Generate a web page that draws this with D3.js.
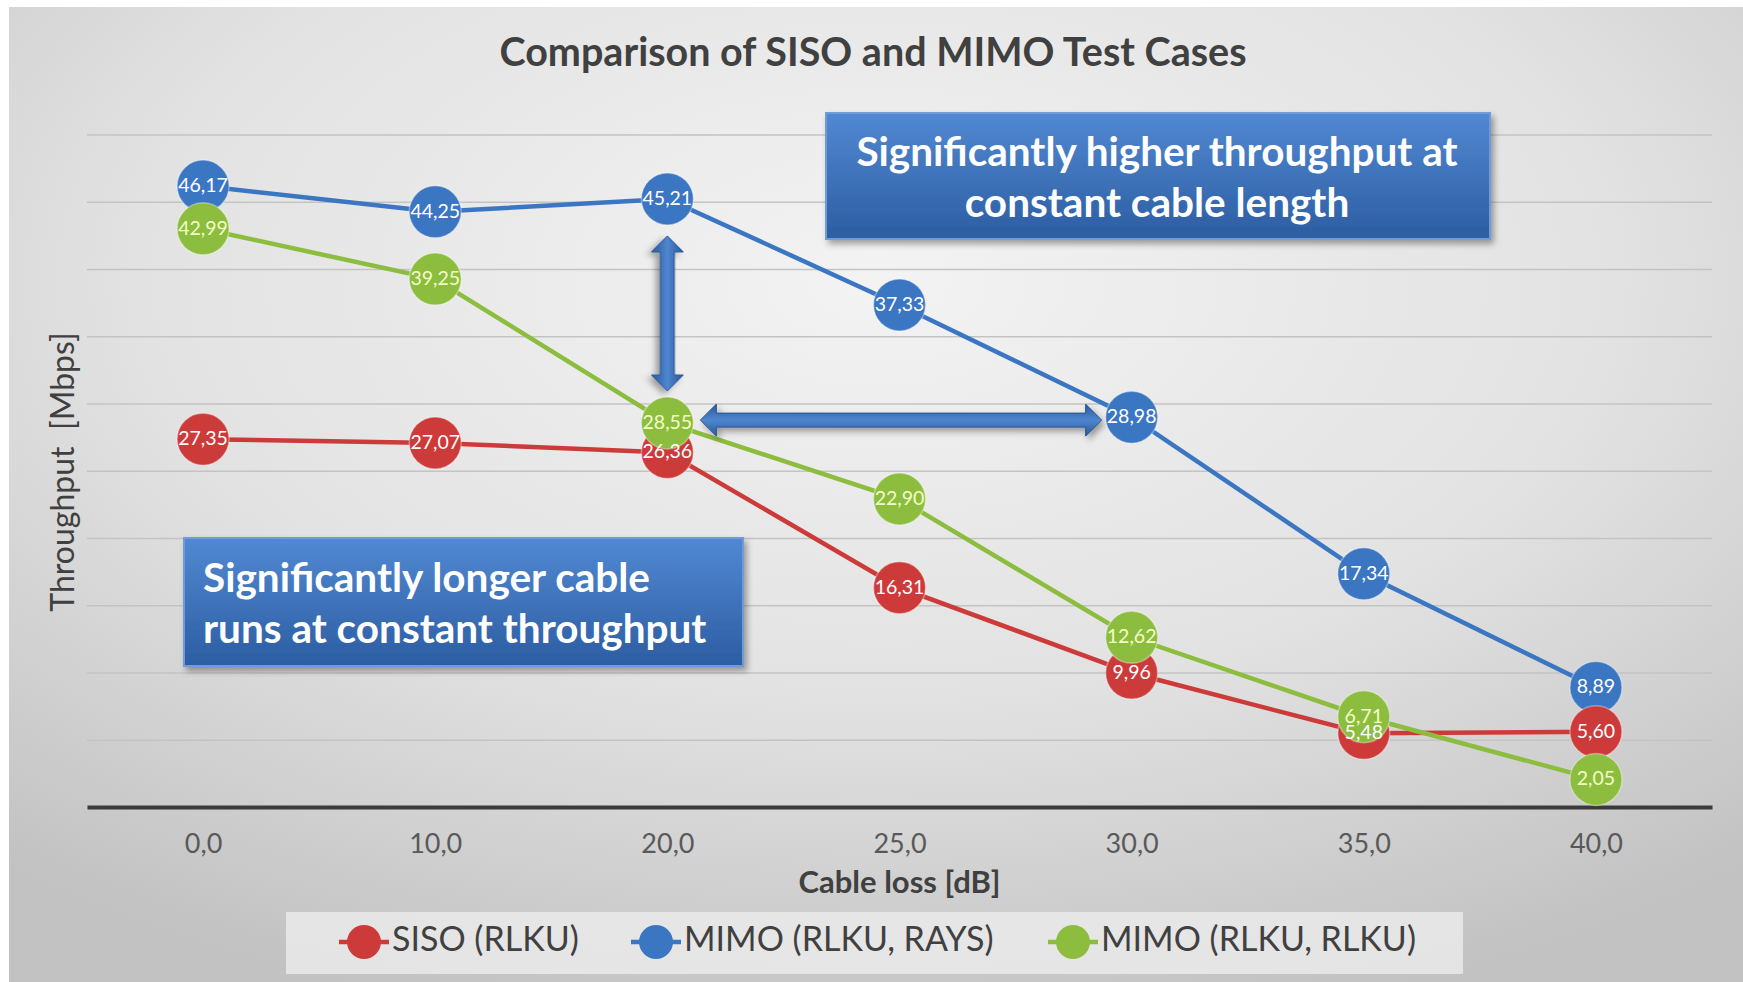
<html>
<head>
<meta charset="utf-8">
<style>
  body { margin: 0; background: #ffffff; }
  text { font-family: Lato, "Open Sans", sans-serif; }
</style>
</head>
<body>
<div id="chart"><svg></svg></div>
<script src="https://cdn.jsdelivr.net/npm/d3@7/dist/d3.min.js"></script>
<script>
// data
var categories = ["0,0", "10,0", "20,0", "25,0", "30,0", "35,0", "40,0"]
var siso = [27.35, 27.07, 26.36, 16.31, 9.96, 5.48, 5.60]
var mimoRays = [46.17, 44.25, 45.21, 37.33, 28.98, 17.34, 8.89]
var mimoRlku = [42.99, 39.25, 28.55, 22.90, 12.62, 6.71, 2.05]
var seriesNames = ["SISO (RLKU)", "MIMO (RLKU, RAYS)", "MIMO (RLKU, RLKU)"]
var yGrid = [5, 10, 15, 20, 25, 30, 35, 40, 45, 50]

var screen = {width: 1743, height: 982}
var plot = {left: 87, right: 1712, top: 134.5, bottom: 807}

var series = [
    {name: seriesNames[1], values: mimoRays, color: "#3b76c3", text: "#ffffff"},
    {name: seriesNames[0], values: siso, color: "#cd3a3a", text: "#ffffff"},
    {name: seriesNames[2], values: mimoRlku, color: "#8cbd3e", text: "#f3ffc8"}
]
var legendOrder = [series[1], series[0], series[2]]

var svg = d3.select("#chart svg")
            .attr("width", screen.width)
            .attr("height", screen.height)

var defs = svg.append("defs")
var bg = defs.append("radialGradient").attr("id", "bg")
             .attr("cx", "50%").attr("cy", "28%").attr("r", "78%")
bg.append("stop").attr("offset", "0%").attr("stop-color", "#f3f3f3")
bg.append("stop").attr("offset", "55%").attr("stop-color", "#e2e2e2")
bg.append("stop").attr("offset", "100%").attr("stop-color", "#c2c2c2")

var boxGrad = defs.append("linearGradient").attr("id", "boxGrad")
                  .attr("x1", 0).attr("y1", 0).attr("x2", 0).attr("y2", 1)
boxGrad.append("stop").attr("offset", "0%").attr("stop-color", "#5189d2")
boxGrad.append("stop").attr("offset", "100%").attr("stop-color", "#2c5da2")

var arrowGradH = defs.append("linearGradient").attr("id", "arrowH")
                  .attr("x1", 0).attr("y1", 0).attr("x2", 0).attr("y2", 1)
arrowGradH.append("stop").attr("offset", "0%").attr("stop-color", "#2a5898")
arrowGradH.append("stop").attr("offset", "50%").attr("stop-color", "#4e86d0")
arrowGradH.append("stop").attr("offset", "100%").attr("stop-color", "#2a5898")

var shadow = defs.append("filter").attr("id", "shadow")
                 .attr("x", "-10%").attr("y", "-10%").attr("width", "130%").attr("height", "140%")
shadow.append("feDropShadow").attr("dx", 3).attr("dy", 4).attr("stdDeviation", 3)
      .attr("flood-color", "#000").attr("flood-opacity", 0.35)

svg.append("rect")
   .attr("x", 9).attr("y", 7)
   .attr("width", screen.width - 9).attr("height", screen.height - 7)
   .attr("fill", "url(#bg)")

var xScale = d3.scalePoint()
               .domain(categories)
               .range([plot.left, plot.right])
               .padding(0.5)
var yScale = d3.scaleLinear()
               .domain([0, 50])
               .range([plot.bottom, plot.top])

// grid
svg.append("g")
   .attr("transform", "translate(" + plot.left + ",0)")
   .call(d3.axisLeft(yScale).tickValues(yGrid).tickSize(-(plot.right - plot.left)).tickFormat(""))
   .call(function(g){ g.select(".domain").remove() })
   .selectAll("line")
   .attr("stroke", "#c3c3c3")
   .attr("stroke-width", 1.5)

// x axis
var xAxis = svg.append("g")
   .attr("transform", "translate(0," + plot.bottom + ")")
   .call(d3.axisBottom(xScale).tickSize(0).tickSizeOuter(0).tickPadding(27))
xAxis.select(".domain").attr("stroke", "#3b3b3b").attr("stroke-width", 4)
xAxis.selectAll("text")
     .attr("fill", "#595959")
     .style("font-size", "27px")
     .style("font-family", "Lato, sans-serif")

svg.append("text")
   .attr("x", (plot.left + plot.right) / 2)
   .attr("y", 885)
   .attr("text-anchor", "middle")
   .attr("dominant-baseline", "middle")
   .attr("fill", "#404040")
   .style("font-size", "31px")
   .style("font-weight", "bold")
   .text("Cable loss [dB]")

svg.append("text")
   .attr("transform", "translate(66,472) rotate(-90)")
   .attr("text-anchor", "middle")
   .attr("dominant-baseline", "middle")
   .attr("fill", "#404040")
   .style("font-size", "32px")
   .style("white-space", "pre")
   .text("Throughput  [Mbps]")

svg.append("text")
   .attr("x", 873)
   .attr("y", 56)
   .attr("text-anchor", "middle")
   .attr("dominant-baseline", "middle")
   .attr("fill", "#404040")
   .style("font-size", "39.5px")
   .style("font-weight", "bold")
   .text("Comparison of SISO and MIMO Test Cases")

// lines and markers
var r = 26
var lineGen = d3.line()
                .x(function(v, i){ return xScale(categories[i]) })
                .y(function(v){ return yScale(v) })

svg.append("g").selectAll("path")
   .data(series)
   .enter()
   .append("path")
   .attr("d", function(s){ return lineGen(s.values) })
   .attr("fill", "none")
   .attr("stroke", function(s){ return s.color })
   .attr("stroke-width", 4.5)

var markerGroups = svg.append("g").selectAll("g")
   .data(series)
   .enter()
   .append("g")
markerGroups.selectAll("circle")
   .data(function(s){ return s.values.map(function(v, i){ return {v: v, i: i, s: s} }) })
   .enter()
   .append("circle")
   .attr("cx", function(d){ return xScale(categories[d.i]) })
   .attr("cy", function(d){ return yScale(d.v) })
   .attr("r", r)
   .attr("fill", function(d){ return d.s.color })
   .attr("stroke", "rgba(255,255,255,0.35)")
   .attr("stroke-width", 1.5)

var fmt = function(v){ return d3.format(".2f")(v).replace(".", ",") }
var labelGroups = svg.append("g").selectAll("g")
   .data(series)
   .enter()
   .append("g")
labelGroups.selectAll("text")
   .data(function(s){ return s.values.map(function(v, i){ return {v: v, i: i, s: s} }) })
   .enter()
   .append("text")
   .attr("x", function(d){ return xScale(categories[d.i]) })
   .attr("y", function(d){ return yScale(d.v) + 1 })
   .attr("text-anchor", "middle")
   .attr("dominant-baseline", "middle")
   .attr("fill", function(d){ return d.s.text })
   .style("font-size", "19.5px")
   .text(function(d){ return fmt(d.v) })

// double arrows
function doubleArrow(x1, y1, x2, y2, fill) {
    var len = Math.hypot(x2 - x1, y2 - y1)
    var sw = 7, hw = 16, hl = 16
    var pts = [[0, 0], [hl, -hw], [hl, -sw], [len - hl, -sw], [len - hl, -hw], [len, 0],
               [len - hl, hw], [len - hl, sw], [hl, sw], [hl, hw]]
    var ang = Math.atan2(y2 - y1, x2 - x1) * 180 / Math.PI
    svg.append("path")
       .attr("d", d3.line()(pts) + "Z")
       .attr("transform", "translate(" + x1 + "," + y1 + ") rotate(" + ang + ")")
       .attr("fill", fill)
       .attr("stroke", "#2a5591")
       .attr("stroke-width", 1)
       .attr("filter", "url(#shadow)")
}
var xMid = xScale(categories[2])
doubleArrow(xMid, yScale(mimoRays[2]) + r + 11, xMid, yScale(mimoRlku[2]) - r - 6, "url(#arrowH)")
var yMid = (yScale(mimoRlku[2]) + yScale(mimoRays[4])) / 2
doubleArrow(xMid + r + 7, yMid, xScale(categories[4]) - r - 4, yMid, "url(#arrowH)")

// callout boxes
function callout(x, y, w, h, lines, anchor, tx) {
    var g = svg.append("g")
    g.append("rect")
     .attr("x", x).attr("y", y).attr("width", w).attr("height", h)
     .attr("fill", "url(#boxGrad)")
     .attr("stroke", "#6f9bd6")
     .attr("stroke-width", 2)
     .attr("filter", "url(#shadow)")
    g.selectAll("text")
     .data(lines)
     .enter()
     .append("text")
     .attr("x", tx)
     .attr("y", function(l, i){ return y + h / 2 + 5 + (i - 0.5) * 51 })
     .attr("text-anchor", anchor)
     .attr("dominant-baseline", "middle")
     .attr("fill", "#ffffff")
     .style("font-size", "40.5px")
     .style("font-weight", "bold")
     .text(function(l){ return l })
}
callout(826, 113, 664, 126, ["Significantly higher throughput at", "constant cable length"], "middle", 1157)
callout(184, 538, 559, 128, ["Significantly longer cable", "runs at constant throughput"], "start", 203)

// legend
var legend = svg.append("g")
legend.append("rect")
      .attr("x", 286).attr("y", 912).attr("width", 1177).attr("height", 62)
      .attr("fill", "#ececec").attr("opacity", 0.8)
var legendX = [364, 656, 1073]
var items = legend.selectAll("g.item")
      .data(legendOrder)
      .enter()
      .append("g")
      .attr("transform", function(s, i){ return "translate(" + legendX[i] + ",942)" })
items.append("line")
     .attr("x1", -25).attr("x2", 25)
     .attr("stroke", function(s){ return s.color })
     .attr("stroke-width", 4.5)
items.append("circle")
     .attr("r", 17)
     .attr("fill", function(s){ return s.color })
items.append("text")
     .attr("x", 28)
     .attr("dominant-baseline", "middle")
     .attr("fill", "#404040")
     .style("font-size", "34px")
     .text(function(s){ return s.name })
</script>
</body>
</html>
